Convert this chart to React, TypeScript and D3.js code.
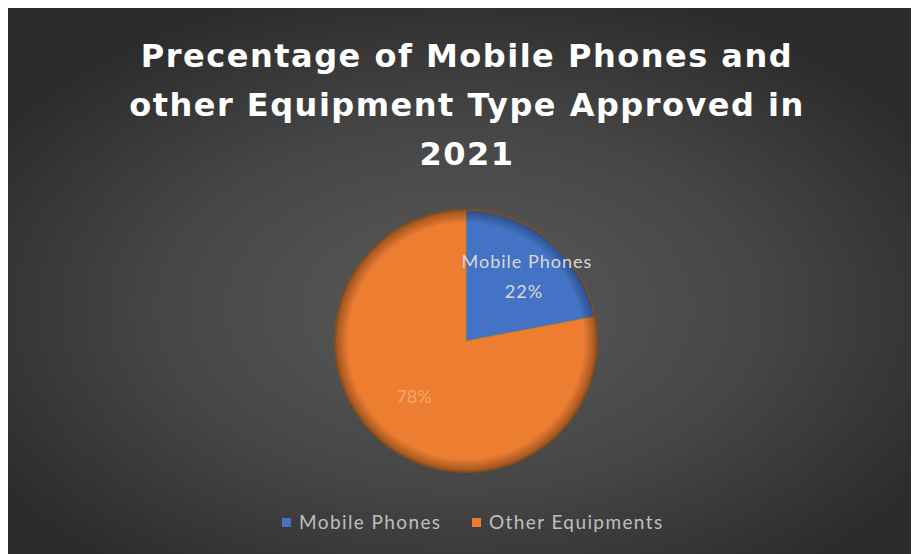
import React from "react";
import * as d3 from "d3";

const categories = ["Mobile Phones", "Other Equipments"];
const values = [22, 78];
const colors = ["#4472C4", "#ED7D31"];
const titleLines = ["Precentage of Mobile Phones and", "other Equipment Type Approved in", "2021"];

const W = 903;
const H = 546;

export default function App() {
  const cx = 458;
  const cy = 333;
  const r = 131;
  const pie = d3.pie<number>().sort(null).value((d) => d)(values);
  const arc = d3.arc<d3.PieArcDatum<number>>().innerRadius(0).outerRadius(r);
  const labelArc = d3.arc<d3.PieArcDatum<number>>().innerRadius(r * 0.55).outerRadius(r * 0.55);

  const legendItems = [
    { x: 274, label: categories[0], color: colors[0] },
    { x: 464, label: categories[1], color: colors[1] },
  ];

  const c0 = labelArc.centroid(pie[0]);
  const c1 = labelArc.centroid(pie[1]);

  return (
    <svg width={W} height={H} style={{ display: "block" }}>
      <defs>
        <radialGradient id="bg" cx="50%" cy="55%" r="60%">
          <stop offset="0%" stopColor="#5a5a5a" />
          <stop offset="55%" stopColor="#464646" />
          <stop offset="100%" stopColor="#2c2c2c" />
        </radialGradient>
        <radialGradient id="bevel" cx="50%" cy="50%" r="50%">
          <stop offset="90%" stopColor="#000" stopOpacity={0} />
          <stop offset="100%" stopColor="#000" stopOpacity={0.35} />
        </radialGradient>
      </defs>
      <rect x={0} y={0} width={W} height={H} fill="url(#bg)" />
      <g fontFamily="'DejaVu Sans', sans-serif" fontWeight="bold" fontSize={32} fill="#ffffff" textAnchor="middle">
        {titleLines.map((t, i) => (
          <text key={i} x={459} y={59 + i * 49} letterSpacing={1.5}>
            {t}
          </text>
        ))}
      </g>
      <g transform={`translate(${cx},${cy})`}>
        {pie.map((p, i) => (
          <path key={i} d={arc(p) || ""} fill={colors[i]} stroke="#b8860b" strokeWidth={1} strokeOpacity={0.4} />
        ))}
        <circle r={r} fill="url(#bevel)" />
        <circle r={r} fill="none" stroke="#8a4a14" strokeWidth={2} strokeOpacity={0.7} />
        <text fill="#d9d9d9" fontFamily="Lato, 'Open Sans', sans-serif" fontSize={18} letterSpacing={1} textAnchor="middle">
          <tspan x={c0[0] + 15} y={c0[1] - 18}>{categories[0]}</tspan>
          <tspan x={c0[0] + 12} dy={30}>{values[0]}%</tspan>
        </text>
        <text x={c1[0] - 6} y={c1[1] + 6} fill="#f4a86a" fontFamily="Lato, 'Open Sans', sans-serif" fontSize={18} textAnchor="middle">
          {values[1]}%
        </text>
      </g>
      <g fontFamily="Lato, 'Open Sans', sans-serif" fontSize={19} fill="#bfbfbf" letterSpacing={1.4}>
        {legendItems.map((l, i) => (
          <g key={i} transform={`translate(${l.x},${515})`}>
            <rect x={0} y={-5} width={9} height={9} fill={l.color} />
            <text x={17} y={6}>{l.label}</text>
          </g>
        ))}
      </g>
    </svg>
  );
}
